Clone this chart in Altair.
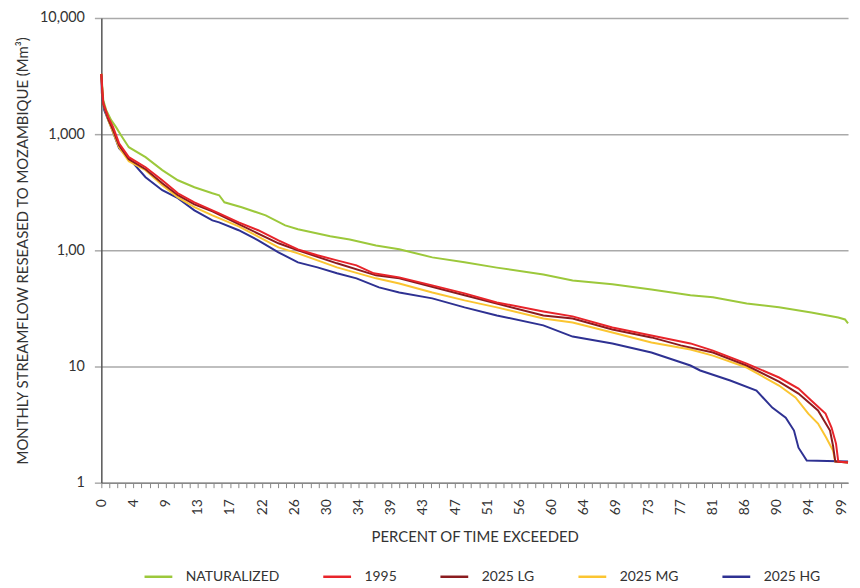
import altair as alt
import pandas as pd

FONT = "Lato"

series_names = ["NATURALIZED", "1995", "2025 LG", "2025 MG", "2025 HG"]
series_colors = ["#9cc83b", "#e8242a", "#8b1c1f", "#fbc531", "#2e3192"]

# Flow-duration curves (percent of time exceeded, monthly flow in Mm3)
nat_pct = [0, 0.26, 0.65, 1.31, 1.96, 2.62, 3.66, 5.89, 8.12, 10.2, 12.4, 14.8, 15.7, 16.4, 18.7,
           21.9, 24.5, 26.2, 30.5, 33.1, 36.6, 39.7, 44.1, 48.4, 52.7, 58.9, 62.8, 68.1, 73.3,
           78.5, 81.5, 86.0, 90.3, 94.6, 98.2, 99.1, 99.5]
nat_val = [3300, 1960, 1610, 1320, 1150, 980, 772, 634, 490, 401, 349, 310, 298, 259, 235,
           200, 164, 152, 132, 124, 110, 102, 87, 79, 71, 62, 55, 51, 46,
           41, 39.4, 34.9, 32.3, 29.2, 26.4, 25.4, 23.5]

r95_pct = [0, 0.13, 0.26, 0.92, 1.57, 2.36, 3.66, 5.89, 8.12, 10.2, 12.4, 14.8, 15.7, 18.3, 20.9,
           23.6, 26.2, 28.8, 31.4, 34.0, 36.3, 39.7, 44.1, 48.4, 52.7, 58.9, 62.8, 68.1, 73.3,
           78.5, 81.5, 86.0, 90.3, 92.9, 94.6, 96.5, 97.3, 97.9, 98.2, 99.5]
r95_val = [3300, 2395, 1850, 1400, 1150, 836, 634, 519, 401, 310, 259, 221, 208, 174, 149,
           122, 102, 90.6, 82, 74.3, 63.4, 58.5, 49.9, 42.6, 35.6, 29.8, 27.0, 21.7, 18.5,
           15.8, 13.7, 10.6, 8.04, 6.46, 5.09, 3.93, 2.98, 2.17, 1.52, 1.49]

lg_pct = [0, 0.13, 0.26, 0.92, 1.57, 2.36, 3.66, 5.89, 8.12, 10.2, 12.4, 14.8, 18.3, 23.6, 26.2,
          31.4, 36.6, 39.7, 48.4, 58.9, 62.8, 68.1, 73.3, 77.2, 81.5, 86.0, 90.3, 92.9, 95.5,
          97.1, 97.5, 97.8, 99.5]
lg_val = [3300, 2300, 1815, 1347, 1082, 804, 609, 499, 378, 298, 249, 217, 168, 115, 100,
          77.3, 60.9, 57.4, 41.0, 27.5, 25.9, 20.8, 17.8, 15.2, 13.2, 10.2, 7.42, 5.85, 4.18,
          2.81, 2.08, 1.52, 1.49]

mg_pct = [0, 0.13, 0.26, 0.92, 1.57, 2.36, 3.66, 5.89, 8.12, 10.2, 12.4, 14.8, 18.3, 23.6, 26.2,
          31.4, 36.6, 39.7, 44.1, 48.4, 52.7, 58.9, 62.8, 68.1, 73.3, 78.5, 81.5, 86.0, 90.3,
          92.5, 94.2, 95.5, 96.6, 97.5, 97.8, 99.5]
mg_val = [3300, 2300, 1815, 1320, 1041, 772, 585, 490, 363, 286, 235, 200, 161, 106, 94.2,
          71.3, 57.4, 51.9, 43.4, 37.1, 32.3, 25.9, 23.9, 19.6, 16.1, 14.0, 12.4, 9.80, 6.86,
          5.41, 3.93, 3.23, 2.44, 1.89, 1.52, 1.49]

hg_pct = [0, 0.07, 0.39, 1.31, 2.36, 3.66, 5.89, 8.12, 10.2, 12.4, 14.8, 15.7, 18.3, 20.9, 23.6,
          26.2, 28.8, 31.4, 34.0, 37.0, 39.7, 44.1, 48.4, 52.7, 58.9, 62.8, 68.1, 73.3, 78.5,
          79.8, 83.8, 87.3, 89.4, 91.2, 92.3, 92.9, 94.0, 99.5]
hg_val = [3200, 2256, 1610, 1150, 757, 621, 426, 329, 281, 221, 181, 174, 149, 122, 96.1,
          78.8, 71.3, 63.4, 57.4, 48.0, 43.4, 38.6, 32.3, 27.5, 22.6, 18.1, 15.8, 13.2, 10.2,
          9.24, 7.57, 6.21, 4.43, 3.63, 2.81, 2.00, 1.55, 1.52]

x_tick_labels = ["0", "4", "9", "13", "17", "22", "26", "30", "34", "39", "43", "47",
                 "51", "56", "60", "64", "69", "73", "77", "81", "86", "90", "94", "99"]
y_tick_values = [1, 10, 100, 1000, 10000]
y_tick_labels = ["1", "10", "1,00", "1,000", "10,000"]

series_data = {
    "NATURALIZED": (nat_pct, nat_val),
    "1995": (r95_pct, r95_val),
    "2025 LG": (lg_pct, lg_val),
    "2025 MG": (mg_pct, mg_val),
    "2025 HG": (hg_pct, hg_val),
}

frames = {}
for name, (p, v) in series_data.items():
    frames[name] = pd.DataFrame({"pct": p, "value": v, "series": name})

# axis ticks: labelled every 30/7 %, minor ticks at quarters of that
major_step = 30 / 7
sub = 4
tick_vals = [i * major_step / sub for i in range(len(x_tick_labels) * sub - sub + 1)]
lab_arr = "[" + ",".join("'" + s + "'" for s in x_tick_labels) + "]"
x_label_expr = (f"(round(datum.value*{sub}/{major_step})%{sub}==0) ? "
                f"{lab_arr}[round(datum.value/{major_step})] : ''")
y_lab_expr = " : ".join(
    f"datum.value=={v} ? '{l}'" for v, l in zip(y_tick_values, y_tick_labels)
) + " : ''"

color = alt.Color(
    "series:N",
    scale=alt.Scale(domain=series_names, range=series_colors),
    legend=alt.Legend(
        orient="none", legendX=42, legendY=547, direction="horizontal",
        title=None, symbolType="stroke", symbolSize=784, symbolStrokeWidth=2.5,
        labelFont=FONT, labelFontSize=14, labelColor="#333333", labelOffset=12,
        columnPadding=38,
    ),
)

x_enc = alt.X(
    "pct:Q",
    scale=alt.Scale(domain=[0, 99.5], nice=False, zero=False),
    axis=alt.Axis(
        values=tick_vals, labelExpr=x_label_expr, labelAngle=-90, labelAlign="right",
        labelBaseline="middle", labelOverlap=False, labelFont=FONT, labelFontSize=14,
        labelColor="#333333", labelPadding=11, tickSize=5, tickColor="#888888",
        domainColor="#888888", domainWidth=1.5, grid=False,
        title="PERCENT OF TIME EXCEEDED", titleFont=FONT, titleFontSize=15,
        titleFontWeight="normal", titleColor="#333333", titlePadding=15,
    ),
)
y_enc = alt.Y(
    "value:Q",
    scale=alt.Scale(type="log", domain=[1, 10000], nice=False),
    axis=alt.Axis(
        values=y_tick_values, labelExpr=y_lab_expr, grid=True, gridColor="#aaaaaa",
        gridWidth=1.5, tickColor="#aaaaaa", tickSize=7, tickWidth=1.5,
        domainColor="#555555", domainWidth=1.5, labelFont=FONT, labelFontSize=14.5,
        labelColor="#333333", labelPadding=10,
        title="MONTHLY STREAMFLOW RESEASED TO MOZAMBIQUE (Mm³)", titleFont=FONT,
        titleFontSize=15, titleFontWeight="normal", titleColor="#333333", titlePadding=9,
    ),
)

draw_order = ["NATURALIZED", "2025 HG", "2025 MG", "2025 LG", "1995"]
layers = []
for name in draw_order:
    layers.append(
        alt.Chart(frames[name]).mark_line(strokeWidth=2)
        .encode(x=x_enc, y=y_enc, color=color)
    )

chart = alt.layer(*layers).properties(
    width=752, height=468,
    padding={"left": 7, "top": 0, "right": 0, "bottom": 0},
).configure_view(stroke=None)

chart.save("out.html", embed_options={"renderer": "svg", "actions": False})
